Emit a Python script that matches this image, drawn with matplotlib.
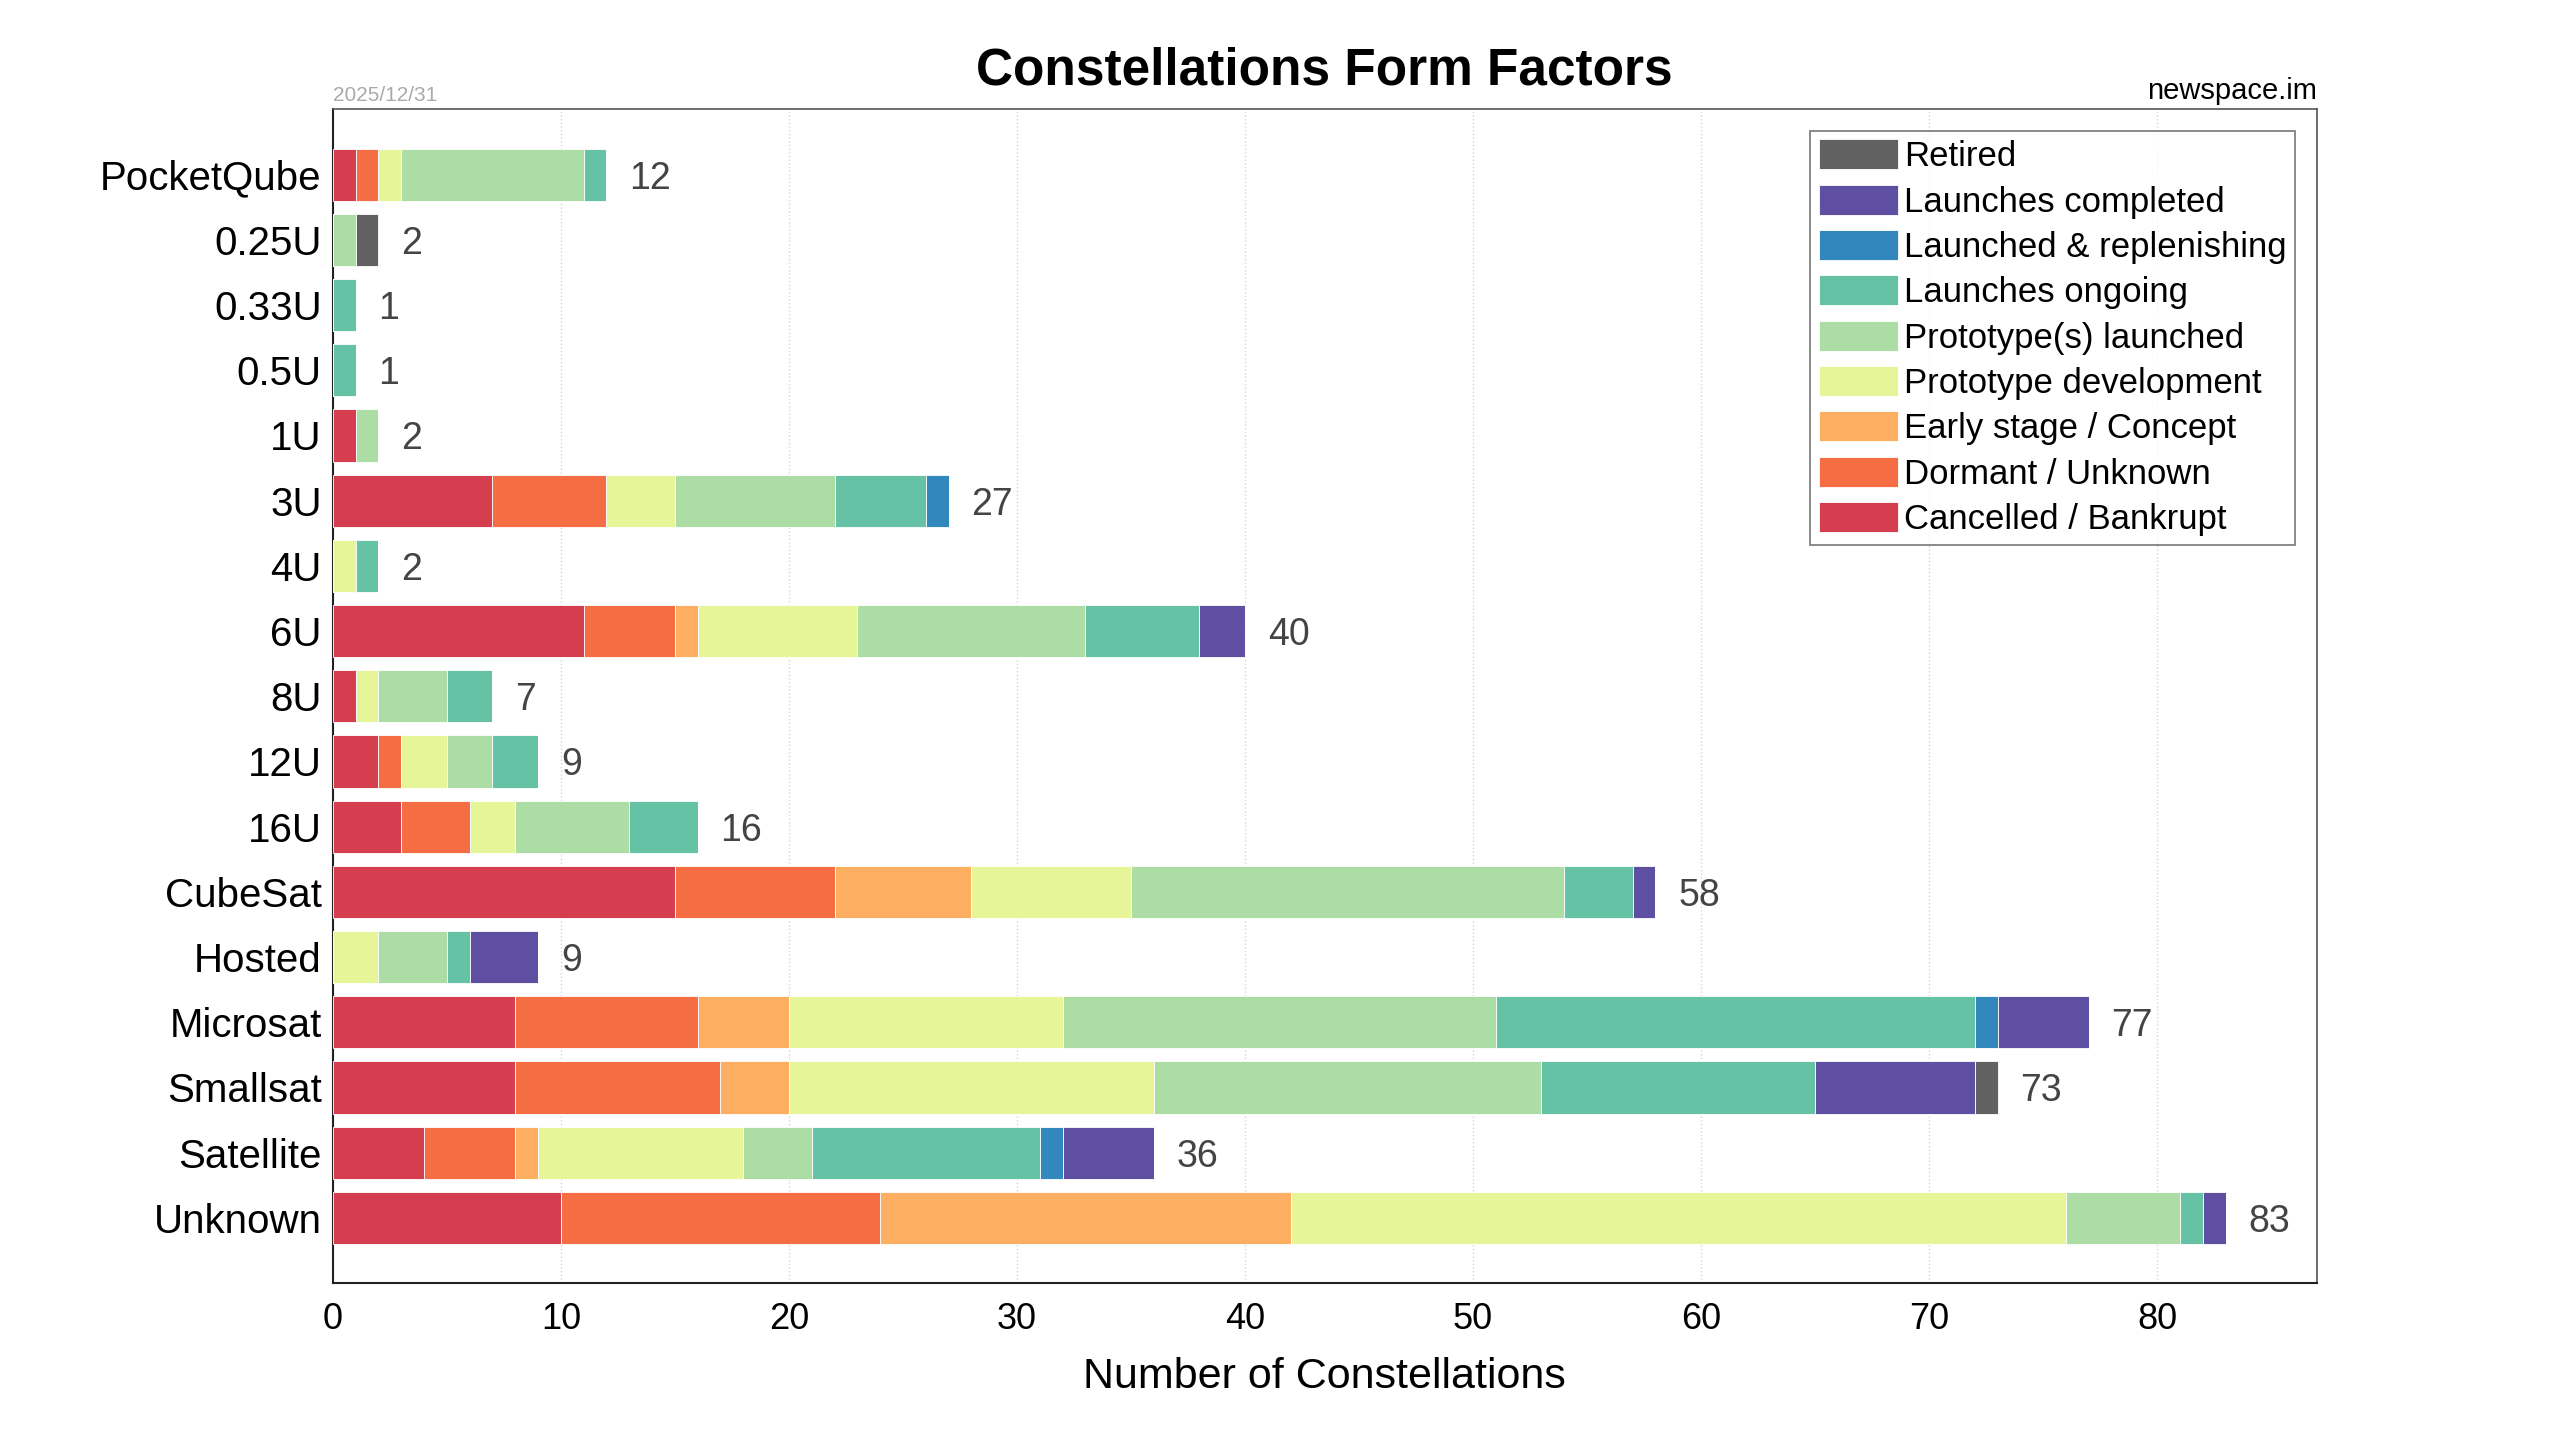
import numpy as np
import matplotlib
matplotlib.use('Agg')
import matplotlib.pyplot as plt

plt.rcParams['font.family'] = ['Liberation Sans', 'DejaVu Sans']

# form factors, top to bottom
categories = ['PocketQube', '0.25U', '0.33U', '0.5U', '1U', '3U', '4U', '6U', '8U',
              '12U', '16U', 'CubeSat', 'Hosted', 'Microsat', 'Smallsat', 'Satellite', 'Unknown']

# status counts per form factor (same order as categories)
cancelled  = [1, 0, 0, 0, 1, 7, 0, 11, 1, 2, 3, 15, 0, 8, 8, 4, 10]
dormant    = [1, 0, 0, 0, 0, 5, 0, 4, 0, 1, 3, 7, 0, 8, 9, 4, 14]
early      = [0, 0, 0, 0, 0, 0, 0, 1, 0, 0, 0, 6, 0, 4, 3, 1, 18]
proto_dev  = [1, 0, 0, 0, 0, 3, 1, 7, 1, 2, 2, 7, 2, 12, 16, 9, 34]
proto_lau  = [8, 1, 0, 0, 1, 7, 0, 10, 3, 2, 5, 19, 3, 19, 17, 3, 5]
ongoing    = [1, 0, 1, 1, 0, 4, 1, 5, 2, 2, 3, 3, 1, 21, 12, 10, 1]
replenish  = [0, 0, 0, 0, 0, 1, 0, 0, 0, 0, 0, 0, 0, 1, 0, 1, 0]
completed  = [0, 0, 0, 0, 0, 0, 0, 2, 0, 0, 0, 1, 3, 4, 7, 4, 1]
retired    = [0, 1, 0, 0, 0, 0, 0, 0, 0, 0, 0, 0, 0, 0, 1, 0, 0]

series = [
    ('Cancelled / Bankrupt', cancelled, '#d53e4f'),
    ('Dormant / Unknown', dormant, '#f46d43'),
    ('Early stage / Concept', early, '#fdae61'),
    ('Prototype development', proto_dev, '#e6f598'),
    ('Prototype(s) launched', proto_lau, '#abdda4'),
    ('Launches ongoing', ongoing, '#66c2a5'),
    ('Launched & replenishing', replenish, '#3288bd'),
    ('Launches completed', completed, '#5e4fa2'),
    ('Retired', retired, '#616161'),
]

fig = plt.figure(figsize=(25.6, 14.4), dpi=100)
ax = fig.add_axes([0.130, 0.109, 0.775, 0.815])

y = np.arange(len(categories))
left = np.zeros(len(categories))
handles = []
for name, vals, col in series:
    vals = np.array(vals, dtype=float)
    h = ax.barh(y, vals, left=left, height=0.8, color=col, edgecolor='white',
                linewidth=0.6, label=name, zorder=3)
    handles.append(h)
    left += vals

totals = left
for yi, t in zip(y, totals):
    ax.text(t + 1.0, yi, f'{int(t)}', va='center_baseline', ha='left', fontsize=27,
            color='#444444')

ax.set_yticks(y)
ax.set_yticklabels(categories, fontsize=29)
ax.set_ylim(len(categories), -1)
ax.set_xlim(0, 87)
ax.set_xticks(np.arange(0, 81, 10))
ax.tick_params(axis='x', labelsize=26, length=0, pad=14)
ax.tick_params(axis='y', length=0, pad=8)
ax.grid(axis='x', linestyle=':', color='#d5d5d5', linewidth=1, zorder=0)
ax.set_xlabel('Number of Constellations', fontsize=31, labelpad=14)

for s in ['left', 'bottom']:
    ax.spines[s].set_color('#222222')
    ax.spines[s].set_linewidth(1.5)
for s in ['top', 'right']:
    ax.spines[s].set_color('#555555')
    ax.spines[s].set_linewidth(1.2)

leg = ax.legend(handles[::-1], [s[0] for s in series][::-1], loc='upper right',
                bbox_to_anchor=(0.989, 0.982), fontsize=25, frameon=True, fancybox=False,
                edgecolor='#555555', handlelength=2.3, handleheight=0.95,
                handletextpad=0.15, labelspacing=0.33, borderpad=0.25, borderaxespad=0)
leg.get_frame().set_linewidth(1.2)

fig.text(0.5175, 0.951, 'Constellations Form Factors', ha='center', va='center',
         fontsize=37, fontweight='bold')
fig.text(0.130, 0.927, '2025/12/31', ha='left', va='bottom', fontsize=15, color='#aaaaaa')
fig.text(0.905, 0.927, 'newspace.im', ha='right', va='bottom', fontsize=21, color='black')

fig.savefig('out.png', dpi=100)
